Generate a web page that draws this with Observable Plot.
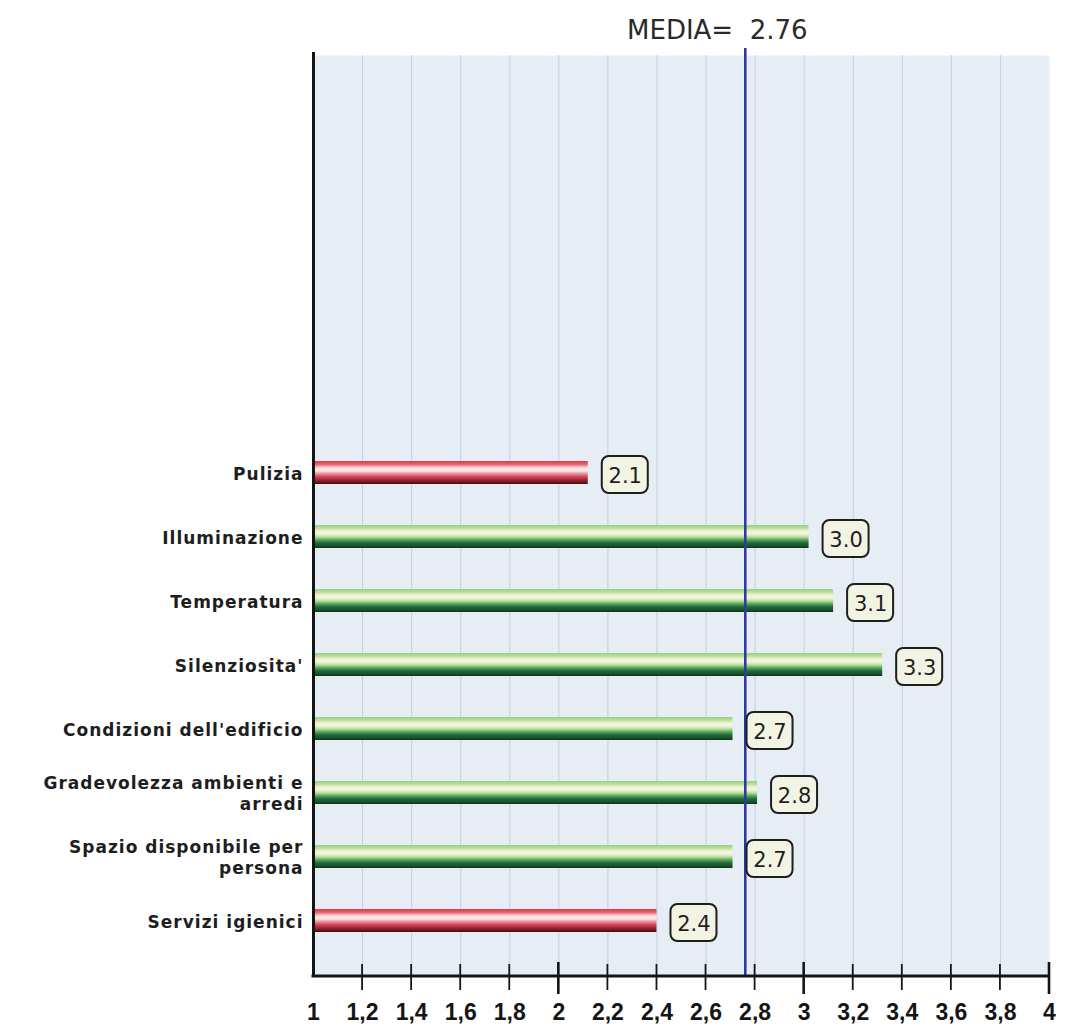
<!DOCTYPE html>
<html>
<head>
<meta charset="utf-8">
<script src="https://cdn.jsdelivr.net/npm/d3@7"></script>
<script src="https://cdn.jsdelivr.net/npm/@observablehq/plot@0.6"></script>
<style>
  html, body { margin: 0; padding: 0; background: #ffffff; }
  #chart svg { display: block; }
  g[aria-label="y-axis tick label"] text { letter-spacing: 1px; }
</style>
</head>
<body>
<div id="chart"></div>
<script>
// ---- data ----
const categories = [
  "Pulizia",
  "Illuminazione",
  "Temperatura",
  "Silenziosita'",
  "Condizioni dell'edificio",
  "Gradevolezza ambienti e\narredi",
  "Spazio disponibile per\npersona",
  "Servizi igienici"
];
const values = [2.12, 3.02, 3.12, 3.32, 2.71, 2.81, 2.71, 2.40];
const mediaValue = 2.76;
const mediaLabel = "MEDIA=  2.76";
const xTicks = [1, 1.2, 1.4, 1.6, 1.8, 2, 2.2, 2.4, 2.6, 2.8, 3, 3.2, 3.4, 3.6, 3.8, 4];
const xDomain = [1, 4];
const redThreshold = 2.5;

const data = categories.map((name, i) => ({name, value: values[i]}));

const fmtTick = d => Number.isInteger(d) ? String(d) : d.toFixed(1).replace(".", ",");

// gradient definitions (styling only)
function gradients() {
  const defs = d3.create("svg:defs");
  const mk = (id, stops) => {
    const g = defs.append("linearGradient").attr("id", id)
      .attr("x1", 0).attr("y1", 0).attr("x2", 0).attr("y2", 1);
    stops.forEach(([o, c]) => g.append("stop").attr("offset", o).attr("stop-color", c));
  };
  mk("gGreen", [
    [0, "#98cf80"], [0.12, "#b6dd98"], [0.28, "#f2f5d6"], [0.40, "#eef4d2"],
    [0.52, "#b8dc9c"], [0.64, "#5ea862"], [0.78, "#22683a"], [0.92, "#16502a"], [1, "#0e2c16"]
  ]);
  mk("gRed", [
    [0, "#dc3c4c"], [0.14, "#e66070"], [0.30, "#f8dede"], [0.42, "#fbeaea"],
    [0.54, "#ee9aa2"], [0.68, "#d04858"], [0.82, "#a82432"], [0.93, "#6a1620"], [1, "#2c0c0c"]
  ]);
  return defs.node();
}

// bottom axis line with crossing ticks (positions from Plot's x scale)
function bottomAxis(index, scales, values, dimensions) {
  const g = d3.create("svg:g");
  const yb = dimensions.height - dimensions.marginBottom;
  const x = scales.x;
  g.append("line")
    .attr("x1", x(xDomain[0]) - 1.5).attr("x2", x(xDomain[1]) + 1)
    .attr("y1", yb).attr("y2", yb)
    .attr("stroke", "#151515").attr("stroke-width", 3);
  xTicks.slice(1).forEach(t => {
    const major = Number.isInteger(t);
    g.append("line")
      .attr("x1", x(t)).attr("x2", x(t))
      .attr("y1", yb - (major ? 14 : 12)).attr("y2", yb + (major ? 18 : 14))
      .attr("stroke", "#151515").attr("stroke-width", major ? 2.6 : 1.8);
  });
  return g.node();
}

const chart = Plot.plot({
  width: 1065,
  height: 1032,
  marginLeft: 313,
  marginRight: 16,
  marginTop: 55,
  marginBottom: 56,
  style: {background: "#ffffff", color: "#222"},
  x: {domain: xDomain, axis: null, label: null},
  y: {domain: categories, paddingInner: 0.64, paddingOuter: 3.42, align: 0.902, axis: null, label: null},
  marks: [
    gradients,
    Plot.frame({fill: "#e7edf5", stroke: null}),
    Plot.gridX(xTicks.slice(1, -1), {stroke: "#c3cfe0", strokeOpacity: 1, strokeWidth: 1}),
    Plot.barX(data, {filter: d => d.value >= redThreshold, x1: xDomain[0], x2: "value", y: "name", fill: "url(#gGreen)"}),
    Plot.barX(data, {filter: d => d.value < redThreshold, x1: xDomain[0], x2: "value", y: "name", fill: "url(#gRed)"}),
    Plot.ruleX([mediaValue], {stroke: "#2b3c9e", strokeWidth: 2.6, insetTop: -7}),
    Plot.rect(data, {
      x1: "value", x2: "value", y: "name",
      dx: 37, dy: 2,
      insetLeft: -23, insetRight: -23, insetTop: -7, insetBottom: -7,
      rx: 7, ry: 7,
      fill: "#f3f3e4", stroke: "#1e1e1e", strokeWidth: 2
    }),
    Plot.text(data, {
      x: "value", y: "name", text: d => d.value.toFixed(1),
      dx: 37, dy: 3,
      fontFamily: "DejaVu Sans", fontSize: 21, fill: "#1e1e1e"
    }),
    Plot.ruleX([xDomain[0]], {stroke: "#151515", strokeWidth: 3, insetTop: -3}),
    Plot.text([mediaValue], {
      x: d => d, text: () => mediaLabel, frameAnchor: "top", dy: -35, dx: -28,
      fontFamily: "DejaVu Sans", fontSize: 26, fill: "#2a2a2a"
    }),
    Plot.axisY({
      label: null,
      tickSize: 0, tickPadding: 10,
      fontFamily: "DejaVu Sans", fontWeight: "bold", fontSize: 17, fill: "#1e1e1e",
      lineHeight: 1.2
    }),
    Plot.axisX(xTicks, {
      label: null,
      anchor: "bottom", tickSize: 0, tickPadding: 27, tickFormat: fmtTick,
      fontFamily: "Liberation Sans", fontWeight: "bold", fontSize: 23, fill: "#151515"
    }),
    bottomAxis
  ]
});

document.getElementById("chart").appendChild(chart);
</script>
</body>
</html>
